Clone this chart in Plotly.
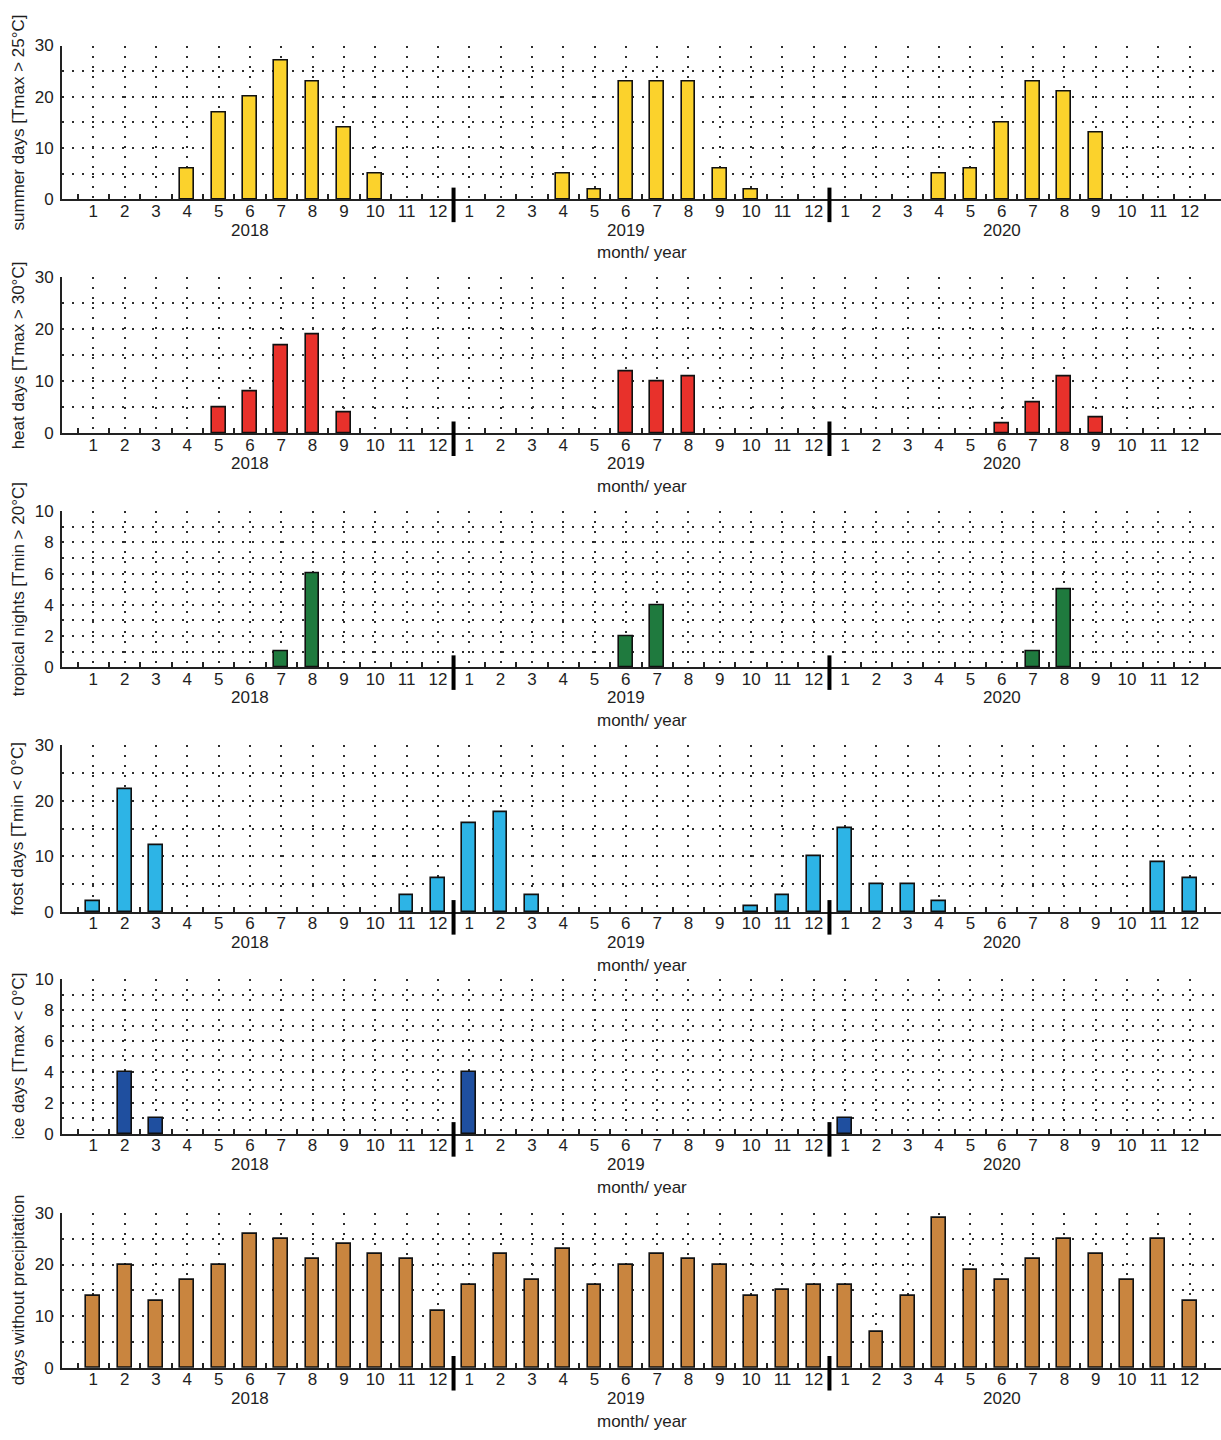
import plotly.graph_objects as go

# ---- data -------------------------------------------------------------
months = [str(m) for m in range(1, 13)] * 3
years = ["2018", "2019", "2020"]

summer_days = [0, 0, 0, 6, 17, 20, 27, 23, 14, 5, 0, 0,
               0, 0, 0, 5, 2, 23, 23, 23, 6, 2, 0, 0,
               0, 0, 0, 5, 6, 15, 23, 21, 13, 0, 0, 0]
heat_days = [0, 0, 0, 0, 5, 8, 17, 19, 4, 0, 0, 0,
             0, 0, 0, 0, 0, 12, 10, 11, 0, 0, 0, 0,
             0, 0, 0, 0, 0, 2, 6, 11, 3, 0, 0, 0]
tropical_nights = [0, 0, 0, 0, 0, 0, 1, 6, 0, 0, 0, 0,
                   0, 0, 0, 0, 0, 2, 4, 0, 0, 0, 0, 0,
                   0, 0, 0, 0, 0, 0, 1, 5, 0, 0, 0, 0]
frost_days = [2, 22, 12, 0, 0, 0, 0, 0, 0, 0, 3, 6,
              16, 18, 3, 0, 0, 0, 0, 0, 0, 1, 3, 10,
              15, 5, 5, 2, 0, 0, 0, 0, 0, 0, 9, 6]
ice_days = [0, 4, 1, 0, 0, 0, 0, 0, 0, 0, 0, 0,
            4, 0, 0, 0, 0, 0, 0, 0, 0, 0, 0, 0,
            1, 0, 0, 0, 0, 0, 0, 0, 0, 0, 0, 0]
dry_days = [14, 20, 13, 17, 20, 26, 25, 21, 24, 22, 21, 11,
            16, 22, 17, 23, 16, 20, 22, 21, 20, 14, 15, 16,
            16, 7, 14, 29, 19, 17, 21, 25, 22, 17, 25, 13]

titles = ["summer days [Tmax > 25°C]", "heat days [Tmax > 30°C]",
          "tropical nights [Tmin > 20°C]", "frost days [Tmin < 0°C]",
          "ice days [Tmax < 0°C]", "days without precipitation"]
series = [summer_days, heat_days, tropical_nights, frost_days, ice_days, dry_days]
colors = ["#FBD22C", "#E8312B", "#1F7A3E", "#2DB4E6", "#1F4F9F", "#C9853F"]
ymax = [30, 30, 10, 30, 10, 30]

# ---- layout geometry (pixels) ------------------------------------------
W, H = 1221, 1440
LEFT = 62
panel_px = [(37, 193), (272, 430), (509, 667), (746, 915), (983, 1140), (1220, 1377)]


def py(y):
    return 1 - y / H


x_pos = list(range(1, 37))
fig = go.Figure()
GRID = "#2e2e2e"
TXT = "#1e1e1e"
FONT = "Liberation Sans, Arial, sans-serif"
FS = 17
DASH = "2px,8px"

for i, (vals, col, top_bot, ym, title) in enumerate(zip(series, colors, panel_px, ymax, titles)):
    n = i + 1
    xa = "x" if n == 1 else f"x{n}"
    ya = "y" if n == 1 else f"y{n}"
    top, bot = top_bot
    fig.add_trace(go.Bar(
        x=x_pos, y=vals, xaxis=xa, yaxis=ya, width=0.44,
        marker=dict(color=col,
                    line=dict(color="#111", width=[1.6 if v > 0 else 0 for v in vals])),
        showlegend=False, hoverinfo="x+y",
    ))
    major = 10 if ym == 30 else 2
    minor = 5 if ym == 30 else 1
    fig.layout[f"xaxis{'' if n == 1 else n}"] = dict(
        domain=[LEFT / W, 1], anchor=ya, range=[0, 37],
        tickmode="array", tickvals=x_pos, ticktext=months,
        ticks="", showgrid=True, gridcolor=GRID, gridwidth=1.6, griddash=DASH,
        minor=dict(tick0=0.5, dtick=1, ticks="inside", ticklen=5, tickwidth=1.5,
                   tickcolor="#222", showgrid=False),
        showline=True, linecolor="#222", linewidth=2, zeroline=False,
        tickfont=dict(size=FS, color=TXT, family=FONT), ticklabelstandoff=-5,
        fixedrange=True,
    )
    fig.layout[f"yaxis{'' if n == 1 else n}"] = dict(
        domain=[py(bot), py(top)], anchor=xa, range=[0, ym],
        tickmode="linear", tick0=0, dtick=major, ticks="",
        showgrid=True, gridcolor=GRID, gridwidth=1.6, griddash=DASH,
        minor=dict(tick0=0, dtick=minor, showgrid=True, gridcolor=GRID,
                   gridwidth=1.6, griddash=DASH),
        showline=True, linecolor="#222", linewidth=2, zeroline=False,
        tickfont=dict(size=FS, color=TXT, family=FONT), ticklabelstandoff=3,
        fixedrange=True,
    )
    # year separators
    for xs in (12.5, 24.5):
        fig.add_shape(type="line", xref=xa, yref="paper", x0=xs, x1=xs,
                      y0=py(bot - 12), y1=py(bot + 23),
                      line=dict(color="black", width=4), layer="above")
    # year labels
    for k, yr in enumerate(years):
        fig.add_annotation(x=6 + 12 * k, y=py(bot + 31), xref=xa, yref="paper",
                           text=yr, showarrow=False, yanchor="middle",
                           font=dict(size=FS, color=TXT, family=FONT))
    fig.add_annotation(x=0.5 * (LEFT / W + 1), y=py(bot + 54), xref="paper", yref="paper",
                       text="month/ year", showarrow=False, yanchor="middle",
                       font=dict(size=FS, color=TXT, family=FONT))
    # y-axis title
    fig.add_annotation(x=18 / W, y=py((top + bot) / 2), xref="paper", yref="paper",
                       text=title, textangle=-90, showarrow=False,
                       xanchor="center", yanchor="middle",
                       font=dict(size=FS, color=TXT, family=FONT))

fig.update_layout(
    width=W, height=H, margin=dict(l=0, r=0, t=0, b=0),
    paper_bgcolor="white", plot_bgcolor="white",
    bargap=0, font=dict(family=FONT, color=TXT),
)

fig.write_html("out.html")
